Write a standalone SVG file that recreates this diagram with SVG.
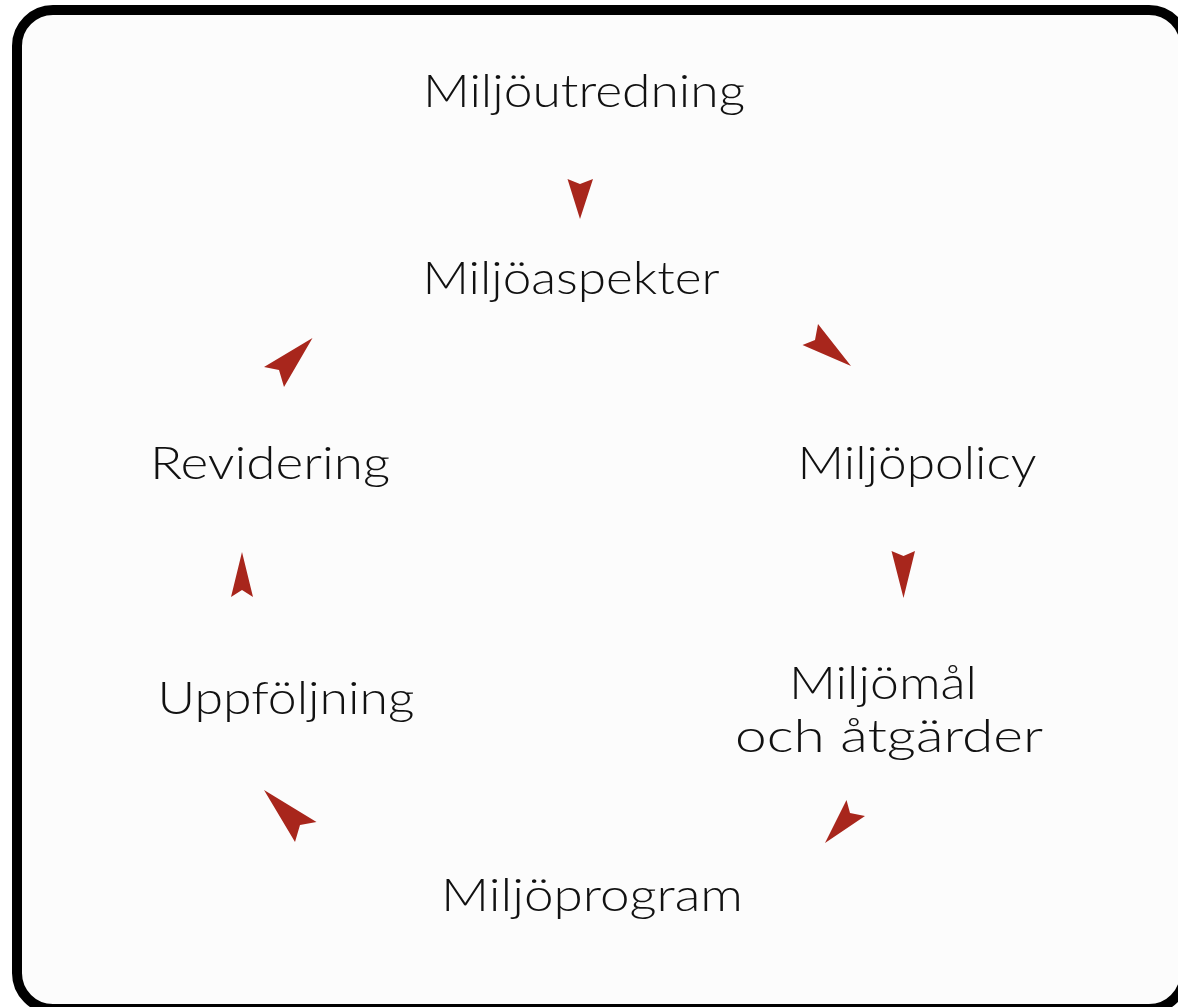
<svg xmlns="http://www.w3.org/2000/svg" width="1178" height="1007" viewBox="0 0 1178 1007">
<style>
.lbl{font-family:Lato,"DejaVu Sans","Liberation Sans",sans-serif;font-weight:300;font-size:45px;fill:#111;text-anchor:middle}
.arr{fill:#a8261c}
</style>
<rect x="0" y="0" width="1178" height="1007" fill="#ffffff"/>
<rect id="frame" x="17" y="10" width="1168" height="999" rx="36" ry="36" fill="#fcfcfc" stroke="#000" stroke-width="10"/>
<g id="n-miljoutredning"><text class="lbl" x="584" y="107" textLength="322" lengthAdjust="spacingAndGlyphs">Miljöutredning</text></g>
<g id="n-miljoaspekter"><text class="lbl" x="571" y="294" textLength="297" lengthAdjust="spacingAndGlyphs">Miljöaspekter</text></g>
<g id="n-miljopolicy"><text class="lbl" x="917" y="479" textLength="239" lengthAdjust="spacingAndGlyphs">Miljöpolicy</text></g>
<g id="n-miljomal"><text class="lbl" x="883" y="699" textLength="188" lengthAdjust="spacingAndGlyphs">Miljömål</text><text class="lbl" x="889" y="752" textLength="308" lengthAdjust="spacingAndGlyphs">och åtgärder</text></g>
<g id="n-miljoprogram"><text class="lbl" x="592" y="911" textLength="302" lengthAdjust="spacingAndGlyphs">Miljöprogram</text></g>
<g id="n-uppfoljning"><text class="lbl" x="286" y="714" textLength="257" lengthAdjust="spacingAndGlyphs">Uppföljning</text></g>
<g id="n-revidering"><text class="lbl" x="270" y="479" textLength="240" lengthAdjust="spacingAndGlyphs">Revidering</text></g>
<g id="connectors">
<polygon class="arr" points="580,219 567.5,179 580,184 593,179"/>
<polygon class="arr" points="851,366 818,324 815,340 802.5,345"/>
<polygon class="arr" points="903.5,598 891.5,551 903.5,556 915,551"/>
<polygon class="arr" points="825,843 846.5,800 850,813 865,816"/>
<polygon class="arr" points="264,790 316.5,822 300,825 295,842"/>
<polygon class="arr" points="242,552 231,597 242,590 253,597"/>
<polygon class="arr" points="312.5,338 264,367 279,370 284,387"/>
</g>
</svg>
